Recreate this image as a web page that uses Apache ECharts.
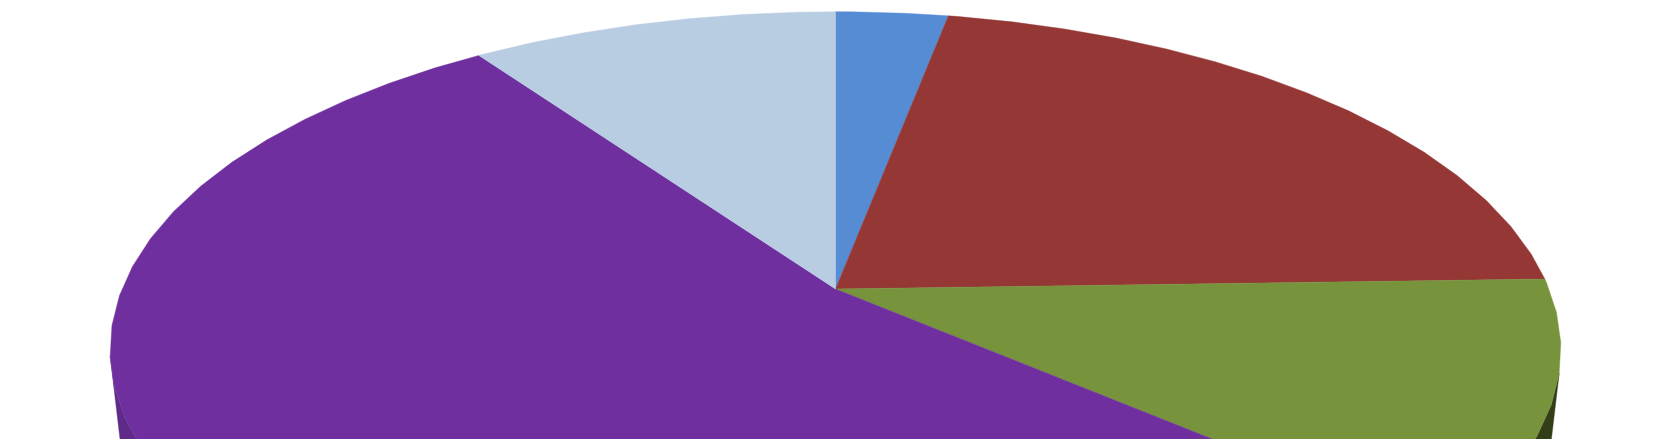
<!DOCTYPE html>
<html>
<head>
<meta charset="utf-8">
<style>html,body{margin:0;padding:0;background:#fff}#c{width:1670px;height:439px}</style>
<script src="https://cdn.jsdelivr.net/npm/echarts@6/dist/echarts.min.js"></script>
</head>
<body>
<div id="c"></div>
<script>
// Slice shares in percent, clockwise from the top of the pie
const categories = ['Slice A', 'Slice B', 'Slice C', 'Slice D', 'Slice E'];
const shares = [2.98, 21.53, 11.87, 53.90, 9.72];
const topColors = ['#558CD4', '#953735', '#77933C', '#6F2F9F', '#B8CCE2'];
const wallColors = ['#35506F', '#55201F', '#333E19', '#602A88', '#6F7B89'];

// Perspective of the tilted pie: unit circle -> view plane
const tilt = 0.18;
const wallScale = 0.97;
const vanishY = -18.9;
const facetStep = 100 / 70, facetPhase = 0.4; // the rim is a faceted polygon
// visible part of the side wall, percent of the turn, starting on rim facet corners
const wallFrom = facetPhase + 20 * facetStep, wallTo = facetPhase + 50 * facetStep;

const total = shares.reduce((a, b) => a + b, 0);
const starts = shares.map((_, i) => shares.slice(0, i).reduce((a, b) => a + b, 0));

function rim(pct) {
  const t = pct / total * 2 * Math.PI;
  const u = Math.sin(t), v = Math.cos(t), w = 1 + tilt * v;
  return [u / w, v / w];
}
function lower(p) {
  return [p[0] * wallScale, vanishY + (p[1] - vanishY) * wallScale];
}
function arc(a, b) {
  const pts = [rim(a)];
  for (let k = Math.ceil((a - facetPhase) / facetStep); ; k++) {
    const p = facetPhase + k * facetStep;
    if (p >= b - 1e-6) break;
    if (p > a + 1e-6) pts.push(rim(p));
  }
  pts.push(rim(b));
  return pts;
}
function polygon(api, pts, color) {
  return {
    type: 'polygon',
    shape: { points: pts.map(p => api.coord(p)) },
    style: { fill: color, stroke: color, lineWidth: 0.4 }
  };
}
const chart = echarts.init(document.getElementById('c'), null, { renderer: 'canvas' });
const rows = shares.map((s, i) => ({ name: categories[i], value: [0, 0, s] }));
chart.setOption({
  animation: false,
  backgroundColor: '#ffffff',
  tooltip: { show: false },
  grid: { left: 0, right: 0, top: 0, bottom: 0 },
  xAxis: { type: 'value', min: -1.1708, max: 1.1694, show: false },
  yAxis: { type: 'value', min: -0.4584, max: 0.8832, show: false },
  series: [
    {
      type: 'custom', coordinateSystem: 'cartesian2d', z: 1, silent: true,
      encode: { x: 0, y: 1 }, data: rows,
      renderItem(params, api) {
        const i = params.dataIndex;
        const a = Math.max(starts[i], wallFrom);
        const b = Math.min(starts[i] + shares[i], wallTo);
        if (b <= a) return null;
        const top = arc(a, b);
        return polygon(api, top.concat(top.map(lower).reverse()), wallColors[i]);
      }
    },
    {
      type: 'custom', coordinateSystem: 'cartesian2d', z: 2, silent: true,
      encode: { x: 0, y: 1 }, data: rows,
      renderItem(params, api) {
        const i = params.dataIndex;
        return polygon(api, [[0, 0]].concat(arc(starts[i], starts[i] + shares[i])), topColors[i]);
      }
    }
  ]
});
</script>
</body>
</html>
